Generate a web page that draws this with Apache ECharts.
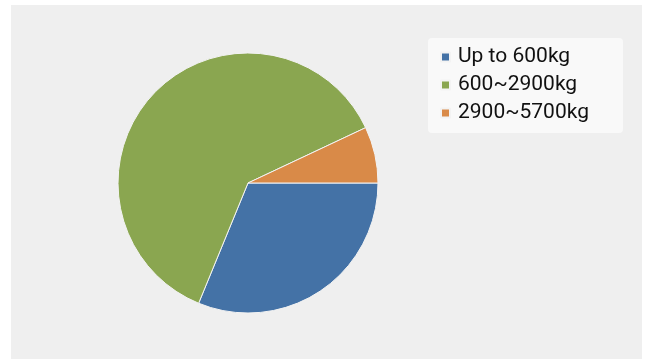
<!DOCTYPE html>
<html>
<head>
<meta charset="utf-8">
<script src="https://cdn.jsdelivr.net/npm/echarts@6/dist/echarts.min.js"></script>
<style>
  html, body { margin: 0; padding: 0; background: #ffffff; }
  #chart { width: 646px; height: 361px; }
</style>
</head>
<body>
<div id="chart"></div>
<script>
// Weight classes and their shares of the total
const categories = ['Up to 600kg', '600~2900kg', '2900~5700kg'];
const shares = [31.2, 61.8, 7.0];
const colors = ['#4472a6', '#8aa650', '#d98a48'];

const chart = echarts.init(document.getElementById('chart'), null, { renderer: 'canvas' });

chart.setOption({
  animation: false,
  backgroundColor: '#ffffff',
  graphic: [{
    // plot panel
    type: 'rect',
    z: -10,
    silent: true,
    shape: { x: 11, y: 5, width: 631, height: 354 },
    style: { fill: '#efefef' }
  }, {
    // legend box
    type: 'rect',
    z: -5,
    silent: true,
    shape: { x: 428, y: 38, width: 195, height: 95, r: 4 },
    style: { fill: '#f9f9f9' }
  }],
  legend: {
    orient: 'vertical',
    left: 440,
    top: 43,
    padding: 0,
    itemWidth: 9,
    itemHeight: 9,
    itemGap: 0,
    icon: 'rect',
    textStyle: {
      fontFamily: 'Roboto',
      fontSize: 21,
      lineHeight: 28,
      color: '#111111',
      padding: [0, 0, 0, 3]
    },
    data: categories
  },
  series: [{
    type: 'pie',
    center: [248, 183],
    radius: 130,
    startAngle: 0,
    clockwise: true,
    label: { show: false },
    labelLine: { show: false },
    itemStyle: { borderColor: '#f3f3f3', borderWidth: 1 },
    emphasis: { disabled: true },
    data: categories.map((name, i) => ({
      name,
      value: shares[i],
      itemStyle: { color: colors[i] }
    }))
  }]
});
</script>
</body>
</html>
